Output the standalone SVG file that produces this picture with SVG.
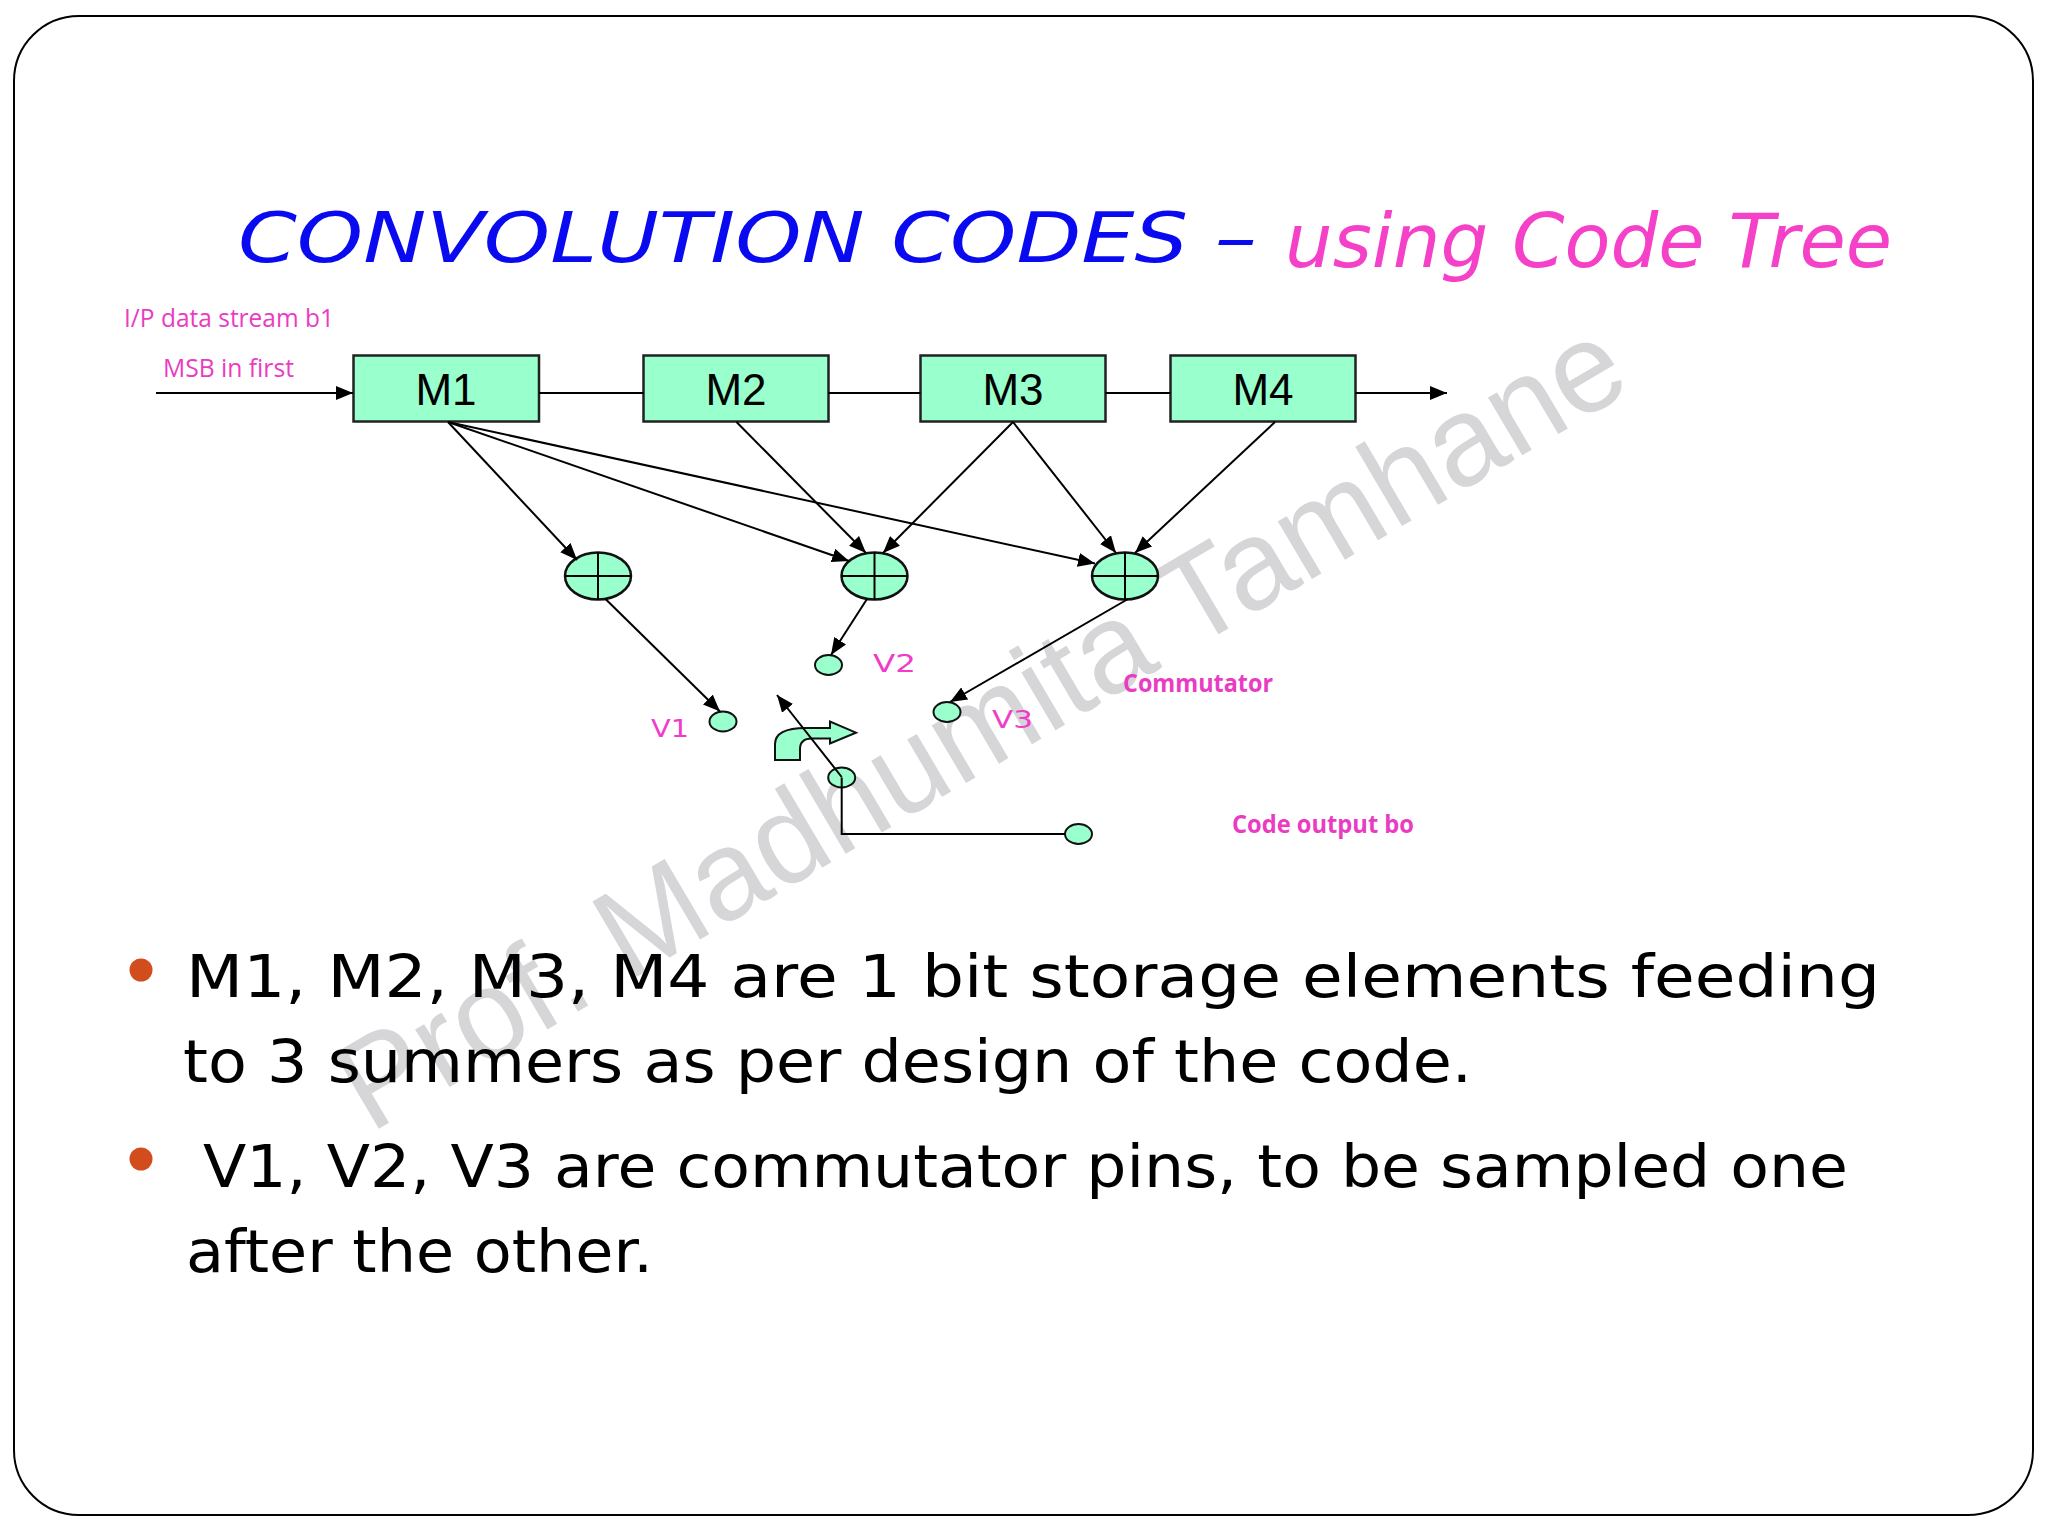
<svg xmlns="http://www.w3.org/2000/svg" width="2048" height="1536" viewBox="0 0 2048 1536">
<defs>
<style>
.box{fill:#99FFCC;stroke:#222;stroke-width:2.5}
.sum{fill:#99FFCC;stroke:#111;stroke-width:2.5}
.pin{fill:#99FFCC;stroke:#111;stroke-width:2}
.ln{fill:none;stroke:#000;stroke-width:2}
.arr{fill:none;stroke:#000;stroke-width:2;marker-end:url(#ah)}
.mt{font-family:"Liberation Sans",Arial,sans-serif;font-size:44px;fill:#000;text-anchor:middle}
.lbl{font-family:"Open Sans","Liberation Sans",sans-serif;fill:#E93CC3}
.hand{font-family:"DejaVu Sans",sans-serif}
.vl{font-family:"DejaVu Sans",sans-serif;font-size:25px;fill:#F03CC8}
.body{font-family:"DejaVu Sans",sans-serif;font-size:58px;fill:#000}
</style>
<marker id="ah" markerUnits="userSpaceOnUse" markerWidth="17" markerHeight="14" refX="17" refY="7" orient="auto">
<path d="M0,0 L17,7 L0,14 z" fill="#000"/>
</marker>
</defs>
<rect x="0" y="0" width="2048" height="1536" fill="#fff"/>
<rect x="14" y="16" width="2019" height="1499" rx="65" ry="65" fill="#fff" stroke="#000" stroke-width="2"/>

<text transform="translate(370,1134) rotate(-30.5)" font-family="Liberation Sans,Arial,sans-serif" font-size="127" fill="#d6d6d9" textLength="1468" lengthAdjust="spacingAndGlyphs">Prof. Madhumita Tamhane</text>

<g id="title">
<text class="hand" x="238" y="262" font-size="69" font-style="italic" fill="#0A0AF0" textLength="1019" lengthAdjust="spacingAndGlyphs">CONVOLUTION CODES –</text>
<text class="hand" x="1285" y="267" font-size="75" font-style="italic" fill="#F540C8" textLength="607" lengthAdjust="spacingAndGlyphs">using Code Tree</text>
</g>

<g id="labels">
<text class="lbl" x="124" y="327" font-size="25" textLength="210" lengthAdjust="spacingAndGlyphs">I/P data stream b1</text>
<text class="lbl" x="163" y="377" font-size="25" textLength="131" lengthAdjust="spacingAndGlyphs">MSB in first</text>
<text class="lbl" x="1123" y="692" font-size="25" font-weight="bold" textLength="150" lengthAdjust="spacingAndGlyphs">Commutator</text>
<text class="lbl" x="1232" y="833" font-size="25" font-weight="bold" textLength="182" lengthAdjust="spacingAndGlyphs">Code output bo</text>
<text class="vl" x="651" y="737" textLength="38" lengthAdjust="spacingAndGlyphs">V1</text>
<text class="vl" x="873" y="672" textLength="43" lengthAdjust="spacingAndGlyphs">V2</text>
<text class="vl" x="992" y="728" textLength="41" lengthAdjust="spacingAndGlyphs">V3</text>
</g>

<g id="M1"><rect class="box" x="353.5" y="355.5" width="185.5" height="66"/><text class="mt" x="446" y="405">M1</text></g>
<g id="M2"><rect class="box" x="643.5" y="355.5" width="185" height="66"/><text class="mt" x="736" y="405">M2</text></g>
<g id="M3"><rect class="box" x="920.5" y="355.5" width="185" height="66"/><text class="mt" x="1013" y="405">M3</text></g>
<g id="M4"><rect class="box" x="1170.5" y="355.5" width="185" height="66"/><text class="mt" x="1263" y="405">M4</text></g>

<g id="S1"><ellipse class="sum" cx="598" cy="576" rx="33" ry="23.5"/><path class="ln" d="M565,576 H631 M598,552.5 V599.5"/></g>
<g id="S2"><ellipse class="sum" cx="874.5" cy="576" rx="33" ry="23.5"/><path class="ln" d="M841.5,576 H907.5 M874.5,552.5 V599.5"/></g>
<g id="S3"><ellipse class="sum" cx="1125" cy="576" rx="33" ry="23.5"/><path class="ln" d="M1092,576 H1158 M1125,552.5 V599.5"/></g>

<g id="V1pin"><ellipse class="pin" cx="723" cy="721.5" rx="13.5" ry="10"/></g>
<g id="V2pin"><ellipse class="pin" cx="828.5" cy="665" rx="13.5" ry="10"/></g>
<g id="V3pin"><ellipse class="pin" cx="947" cy="712" rx="13.5" ry="10"/></g>
<g id="pivot"><ellipse class="pin" cx="841.7" cy="777.5" rx="13.5" ry="10"/></g>
<g id="outpin"><ellipse class="pin" cx="1078.5" cy="834" rx="13.5" ry="10"/></g>
<g id="rotarrow"><path d="M775,760 L775,744 C775,733 786,728 806,728 L830,728 L830,721.5 L856,732.7 L830,743.5 L830,738.5 L812,738.5 C804,738.5 800,742 800,749 L800,760 Z" fill="#99FFCC" stroke="#111" stroke-width="2"/></g>

<g id="connectors">
<line class="arr" x1="156" y1="393" x2="353" y2="393"/>
<line class="ln" x1="539" y1="393" x2="643.5" y2="393"/>
<line class="ln" x1="828.5" y1="393" x2="920.5" y2="393"/>
<line class="ln" x1="1105.5" y1="393" x2="1170.5" y2="393"/>
<line class="arr" x1="1355.5" y1="393" x2="1447" y2="393"/>
<line class="arr" x1="448" y1="422" x2="577" y2="560"/>
<line class="arr" x1="448" y1="422" x2="849" y2="561"/>
<line class="arr" x1="448" y1="422" x2="1095" y2="563.5"/>
<line class="arr" x1="736.5" y1="422" x2="866" y2="553"/>
<line class="arr" x1="1013" y1="422" x2="883" y2="553"/>
<line class="arr" x1="1013" y1="422" x2="1116" y2="553"/>
<line class="arr" x1="1275" y1="422" x2="1135" y2="553"/>
<line class="arr" x1="605.5" y1="599" x2="720" y2="711.5"/>
<line class="arr" x1="867" y1="599" x2="831" y2="655"/>
<line class="arr" x1="1128" y1="599" x2="950" y2="702"/>
<line class="arr" x1="841.7" y1="777" x2="777" y2="695"/>
<polyline class="ln" points="841.7,777.5 841.7,834 1065,834"/>
</g>

<g id="bullets">
<circle cx="141" cy="970" r="11.5" fill="#D24D1E"/>
<circle cx="141" cy="1159" r="11.5" fill="#D24D1E"/>
<text class="body" x="186" y="997" textLength="1694" lengthAdjust="spacingAndGlyphs">M1, M2, M3, M4 are 1 bit storage elements feeding</text>
<text class="body" x="183" y="1082" textLength="1289" lengthAdjust="spacingAndGlyphs">to 3 summers as per design of the code.</text>
<text class="body" x="203" y="1187" textLength="1645" lengthAdjust="spacingAndGlyphs">V1, V2, V3 are commutator pins, to be sampled one</text>
<text class="body" x="186" y="1272" textLength="467" lengthAdjust="spacingAndGlyphs">after the other.</text>
</g>
</svg>
